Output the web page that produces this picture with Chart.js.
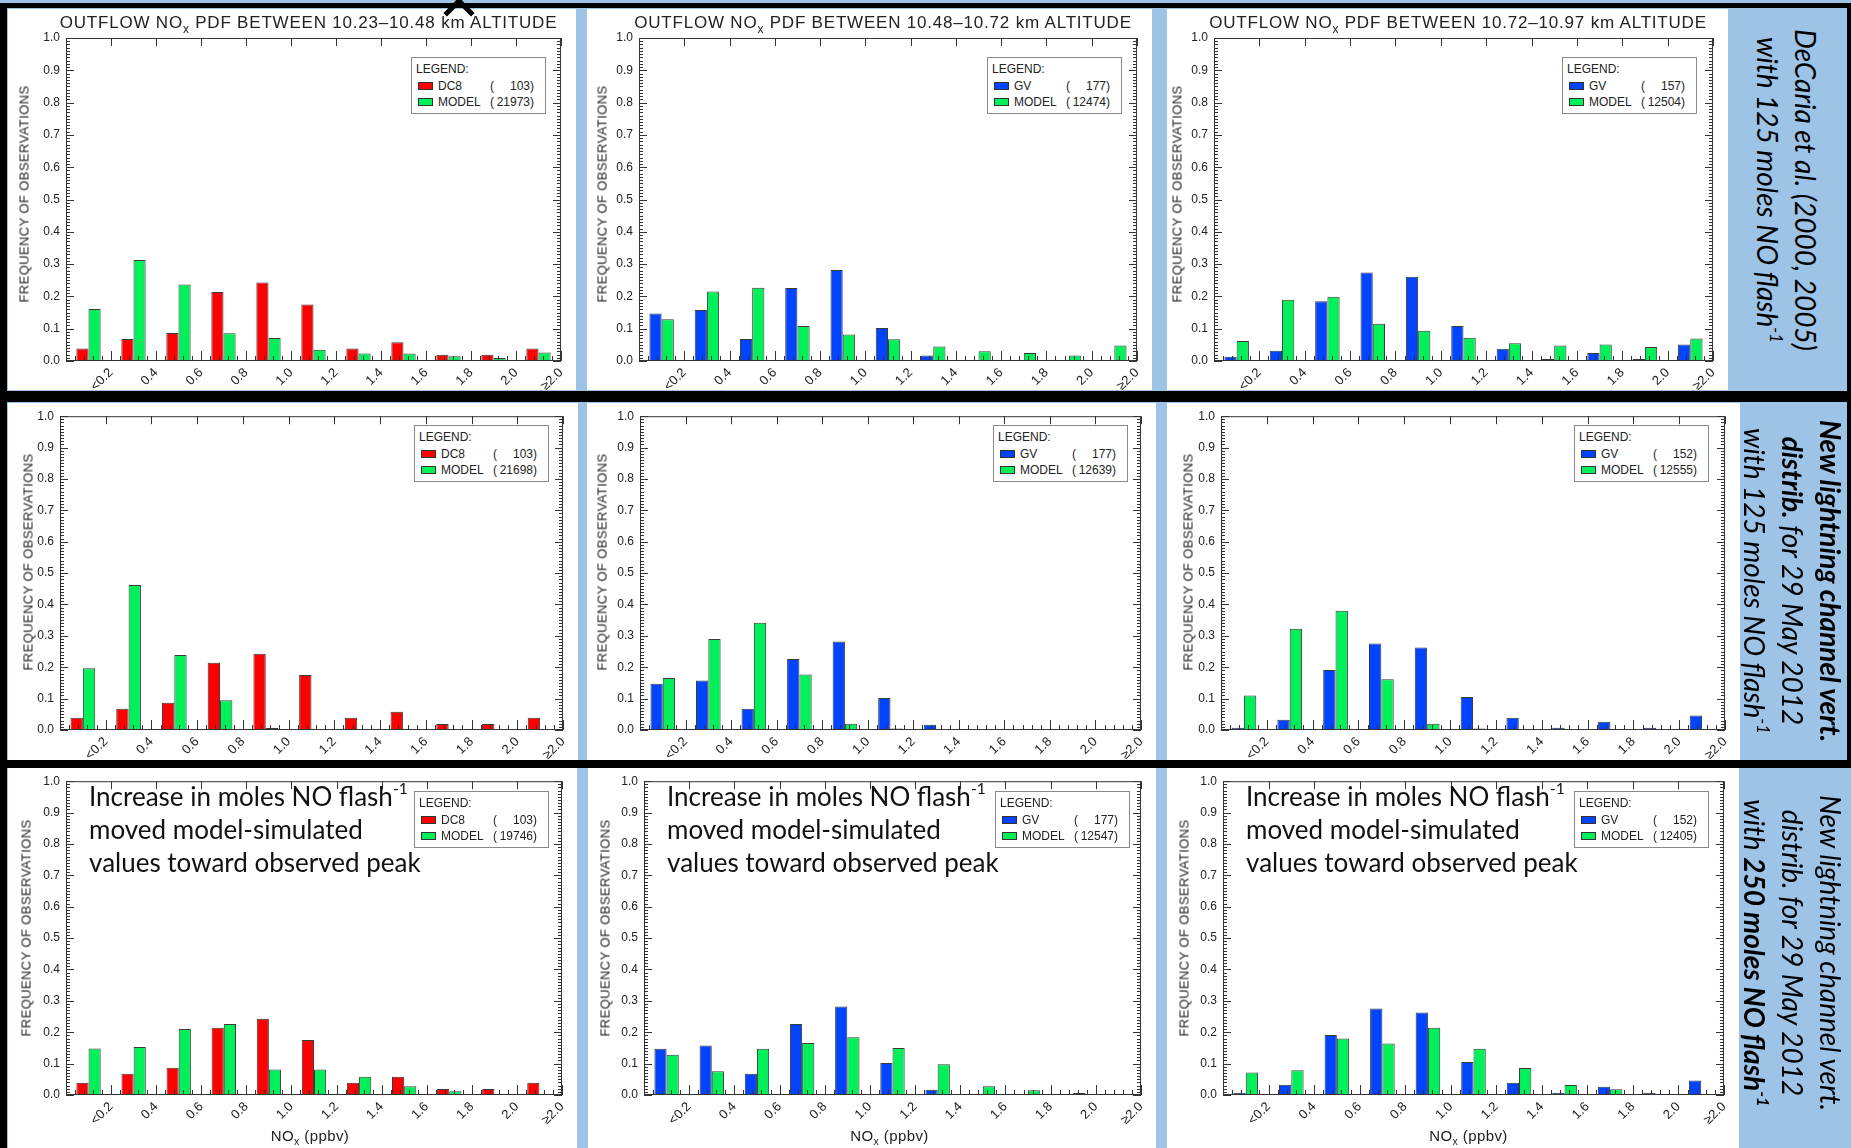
<!DOCTYPE html>
<html>
<head>
<meta charset="utf-8">
<title>Outflow NOx PDFs</title>
<script src="https://cdn.jsdelivr.net/npm/chart.js@4.4.1/dist/chart.umd.min.js"></script>
<style>
  body { margin: 0; width: 1851px; height: 1148px; position: relative; overflow: hidden; background: #000;
         font-family: "Liberation Sans", Arial, sans-serif; color: #222; }
  .blue { position: absolute; background: #9dc3e6; }
  .panel { position: absolute; background: #fff; }
  .panel canvas { position: absolute; left: 0; top: 0; }
  .ttl { position: absolute; transform: translate(-50%, -50%); white-space: nowrap; font-size: 17px; letter-spacing: 0.8px; }
  .ytl { position: absolute; transform: translate(-50%, -50%) rotate(-90deg); white-space: nowrap; font-size: 13px; letter-spacing: 0.4px; }
  .xtl { position: absolute; transform: translate(-50%, -50%); white-space: nowrap; font-size: 15px; letter-spacing: 0.4px; }
  sub { font-size: 0.7em; vertical-align: -0.4em; line-height: 0; }
  .leg { position: absolute; width: 135px; height: 57px; box-sizing: border-box; border: 1px solid #8a8a8a; background: #fff; font-size: 12px; }
  .leg .lh { position: absolute; left: 4px; top: 4px; }
  .leg .lr { position: absolute; left: 0; width: 100%; height: 14px; }
  .leg .sw { position: absolute; left: 6px; top: 3px; width: 15px; height: 8px; box-sizing: border-box; border: 1px solid #333; }
  .leg .ln { position: absolute; left: 26px; top: 0; }
  .leg .lc { position: absolute; left: 78px; width: 44px; top: 0; display: flex; justify-content: space-between; }
  .note { position: absolute; font-family: Lato, sans-serif; font-size: 26px; line-height: 33px; color: #111; white-space: nowrap; }
  .note sup, .side sup { font-size: 0.6em; vertical-align: 0.75em; line-height: 0; }
  .side { position: absolute; transform: translate(-50%, -50%) rotate(90deg); font-family: Lato, sans-serif; font-style: italic;
          font-size: 28px; line-height: 38px; color: #000; text-align: center; white-space: nowrap; }
  .caret { position: absolute; left: 448px; top: 2px; width: 22px; height: 22px; box-sizing: border-box;
           border-left: 5px solid #000; border-top: 5px solid #000; transform: rotate(45deg); }
</style>
</head>
<body>
<div class="blue" style="left:0;top:0;width:1851px;height:3px"></div>
<div class="blue" style="left:7px;top:8px;width:1840px;height:383px"></div>
<div class="blue" style="left:7px;top:402px;width:1840px;height:358px"></div>
<div class="blue" style="left:7px;top:768px;width:1844px;height:380px"></div>

<script>
// NOx bins (ppbv), each label marks the upper edge of its bin
const binLabels = ['<0.2', '0.4', '0.6', '0.8', '1.0', '1.2', '1.4', '1.6', '1.8', '2.0', '\u22652.0'];
const altitudeBands = ['10.23\u201310.48', '10.48\u201310.72', '10.72\u201310.97'];

// observed frequencies (aircraft)
const dc8Freq   = [0.039, 0.068, 0.087, 0.214, 0.243, 0.175, 0.039, 0.058, 0.019, 0.019, 0.039];
const gvFreq177 = [0.147, 0.158, 0.068, 0.226, 0.282, 0.102, 0.017, 0, 0, 0, 0];
const gvFreq157 = [0.013, 0.032, 0.185, 0.274, 0.261, 0.108, 0.038, 0.006, 0.025, 0.006, 0.051];
const gvFreq152 = [0.007, 0.033, 0.191, 0.276, 0.263, 0.105, 0.039, 0.007, 0.026, 0.007, 0.046];

// model frequencies: DeCaria distribution, 125 moles
const modelDeCaria1 = [0.161, 0.313, 0.237, 0.086, 0.071, 0.035, 0.023, 0.023, 0.015, 0.009, 0.026];
const modelDeCaria2 = [0.129, 0.215, 0.227, 0.108, 0.082, 0.067, 0.045, 0.030, 0.025, 0.017, 0.048];
const modelDeCaria3 = [0.062, 0.190, 0.199, 0.115, 0.094, 0.072, 0.055, 0.048, 0.051, 0.043, 0.070];
// new channel distribution, 125 moles
const modelNew125_1 = [0.197, 0.462, 0.239, 0.095, 0.006, 0, 0, 0, 0, 0, 0];
const modelNew125_2 = [0.166, 0.290, 0.342, 0.177, 0.020, 0.005, 0, 0, 0, 0, 0];
const modelNew125_3 = [0.110, 0.323, 0.380, 0.162, 0.020, 0.005, 0, 0, 0, 0, 0];
// new channel distribution, 250 moles
const modelNew250_1 = [0.148, 0.153, 0.210, 0.226, 0.081, 0.081, 0.058, 0.028, 0.012, 0, 0];
const modelNew250_2 = [0.128, 0.076, 0.147, 0.166, 0.184, 0.150, 0.098, 0.028, 0.015, 0.006, 0.002];
const modelNew250_3 = [0.072, 0.079, 0.180, 0.164, 0.214, 0.147, 0.086, 0.032, 0.018, 0.003, 0];

const obsNames = ['DC8', 'GV', 'GV'];
const obsCounts = [[103, 177, 157], [103, 177, 152], [103, 177, 152]];
const modelCounts = [[21973, 12474, 12504], [21698, 12639, 12555], [19746, 12547, 12405]];

const obsSeries = [
    [dc8Freq, gvFreq177, gvFreq157],
    [dc8Freq, gvFreq177, gvFreq152],
    [dc8Freq, gvFreq177, gvFreq152]
];
const modelSeries = [
    [modelDeCaria1, modelDeCaria2, modelDeCaria3],
    [modelNew125_1, modelNew125_2, modelNew125_3],
    [modelNew250_1, modelNew250_2, modelNew250_3]
];
const noteLines = ['Increase in moles NO flash<sup>-1</sup>', 'moved model-simulated', 'values toward observed peak'];

// layout: white panel [x, y, w, h] and plot area [left, top, right, bottom], row by row
const panelBoxes = [
    [8, 9, 568, 381], [587, 9, 565, 381], [1167, 9, 561, 381],
    [8, 403, 570, 357], [587, 403, 569, 357], [1167, 403, 573, 357],
    [8, 768, 569, 380], [588, 768, 568, 380], [1167, 768, 572, 380]
];
const plotAreas = [
    [66, 38, 569, 361], [639, 38, 1145, 361], [1214, 38, 1720, 361],
    [60, 406, 572, 730], [640, 406, 1151, 730], [1221, 406, 1732, 730],
    [66, 772, 572, 1095], [644, 772, 1153, 1095], [1223, 772, 1732, 1095]
];
const yTitleGap = [42, 37, 37, 32, 38, 33, 40, 39, 39];

const obsColors = { DC8: '#ff0000', GV: '#0044ff' };
const modelColor = '#00f05a';
const inkColor = '#222';

// frame + IDL-style inward ticks, drawn over the bars
const frameTicks = {
    id: 'frameTicks',
    afterDatasetsDraw(chart) {
        const { ctx, chartArea: a, scales: { x, y } } = chart;
        ctx.save();
        ctx.strokeStyle = '#333';
        ctx.lineWidth = 1;
        ctx.beginPath();
        for (let i = 0; i <= binLabels.length * 5; i++) {
            const px = Math.round(x.getPixelForValue(i / 5)) + 0.5;
            const major = i % 5 === 0;
            ctx.moveTo(px, a.bottom);
            ctx.lineTo(px, a.bottom - (major ? 10 : 5));
            if (major) {
                ctx.moveTo(px, a.top);
                ctx.lineTo(px, a.top + 8);
            }
        }
        for (let i = 0; i <= 100; i++) {
            const py = Math.round(y.getPixelForValue(i / 100)) + 0.5;
            const len = i % 10 === 0 ? 8 : 4;
            ctx.moveTo(a.left, py); ctx.lineTo(a.left + len, py);
            ctx.moveTo(a.right, py); ctx.lineTo(a.right - len, py);
        }
        ctx.stroke();
        ctx.strokeRect(a.left + 0.5, a.top + 0.5, a.right - a.left - 1, a.bottom - a.top - 1);
        ctx.restore();
    }
};

function addDiv(cls, html, style) {
    let d = document.createElement('div');
    d.className = cls;
    d.innerHTML = html;
    Object.assign(d.style, style);
    document.body.appendChild(d);
    return d;
}

function binPoints(values) {
    return values.map((v, i) => ({ x: i + 0.5, y: v }));
}

function makePanel(row, col) {
    const k = row * 3 + col;
    const [bx, by, bw, bh] = panelBoxes[k];
    const [pl, pt, pr, pb] = plotAreas[k];
    const obsName = obsNames[col];

    let box = addDiv('panel', '', { left: bx + 'px', top: by + 'px', width: bw + 'px', height: bh + 'px' });
    let canvas = document.createElement('canvas');
    canvas.width = bw;
    canvas.height = bh;
    box.appendChild(canvas);

    new Chart(canvas, {
        type: 'bar',
        data: {
            datasets: [
                {
                    label: obsName,
                    data: binPoints(obsSeries[row][col]),
                    backgroundColor: obsColors[obsName],
                    borderColor: '#3a3a3a',
                    borderWidth: 1,
                    categoryPercentage: 0.54,
                    barPercentage: 1.0
                },
                {
                    label: 'MODEL',
                    data: binPoints(modelSeries[row][col]),
                    backgroundColor: modelColor,
                    borderColor: '#3a3a3a',
                    borderWidth: 1,
                    categoryPercentage: 0.54,
                    barPercentage: 1.0
                }
            ]
        },
        options: {
            responsive: false,
            animation: false,
            events: [],
            layout: { autoPadding: false, padding: { left: 0, top: pt - by, right: bx + bw - pr, bottom: 0 } },
            plugins: { legend: { display: false }, tooltip: { enabled: false } },
            scales: {
                x: {
                    type: 'linear', min: 0, max: binLabels.length, offset: false,
                    grid: { display: false, drawTicks: false },
                    border: { display: false },
                    afterFit: s => { s.height = by + bh - pb; },
                    ticks: {
                        stepSize: 1, autoSkip: false, maxRotation: 45, minRotation: 45, padding: 4,
                        color: inkColor, font: { family: 'Liberation Sans', size: 13 },
                        callback: v => (v >= 1 ? binLabels[v - 1] : '')
                    }
                },
                y: {
                    min: 0, max: 1,
                    grid: { display: false, drawTicks: false },
                    border: { display: false },
                    afterFit: s => { s.width = pl - bx; },
                    ticks: {
                        stepSize: 0.1, padding: 6, color: inkColor,
                        font: { family: 'Liberation Sans', size: 12 },
                        callback: v => v.toFixed(1)
                    }
                }
            }
        },
        plugins: [frameTicks]
    });

    // axis titles
    addDiv('ytl', 'FREQUENCY OF OBSERVATIONS', { left: (pl - yTitleGap[k]) + 'px', top: ((pt + pb) / 2 - 6) + 'px' });
    if (row === 0) {
        addDiv('ttl', 'OUTFLOW NO<sub>x</sub> PDF BETWEEN ' + altitudeBands[col] + ' km ALTITUDE',
            { left: ((pl + pr) / 2 - 9) + 'px', top: (pt - 15) + 'px' });
    }
    if (row === 2) {
        addDiv('xtl', 'NO<sub>x</sub> (ppbv)', { left: ((pl + pr) / 2 - 9) + 'px', top: (pb + 40) + 'px' });
        addDiv('note', noteLines.join('<br>'), { left: (pl + 23) + 'px', top: (pt + 8) + 'px' });
    }

    // legend box
    let leg = addDiv('leg', '', { left: (pr - 23 - 135) + 'px', top: (pt + 19) + 'px' });
    let rows = [[obsName, obsColors[obsName], obsCounts[row][col]], ['MODEL', modelColor, modelCounts[row][col]]];
    let html = '<div class="lh">LEGEND:</div>';
    rows.forEach((r, i) => {
        html += '<div class="lr" style="top:' + (21 + i * 16) + 'px"><span class="sw" style="background:' + r[1] + '"></span>' +
            '<span class="ln">' + r[0] + '</span><span class="lc"><span>(</span><span>' + r[2] + ')</span></span></div>';
    });
    leg.innerHTML = html;
}

for (let row = 0; row < 3; row++) {
    for (let col = 0; col < 3; col++) {
        makePanel(row, col);
    }
}
</script>

<div class="side" style="left:1787px;top:190px">
  <div>DeCaria et al. (2000, 2005)</div>
  <div>with 125 moles NO flash<sup>-1</sup></div>
</div>
<div class="side" style="left:1793px;top:581px">
  <div><b>New lightning channel vert.</b></div>
  <div><b>distrib.</b> for 29 May 2012</div>
  <div>with 125 moles NO flash<sup>-1</sup></div>
</div>
<div class="side" style="left:1793px;top:953px">
  <div>New lightning channel vert.</div>
  <div>distrib. for 29 May 2012</div>
  <div>with <b>250 moles NO flash<sup>-1</sup></b></div>
</div>
<div class="caret"></div>
</body>
</html>
